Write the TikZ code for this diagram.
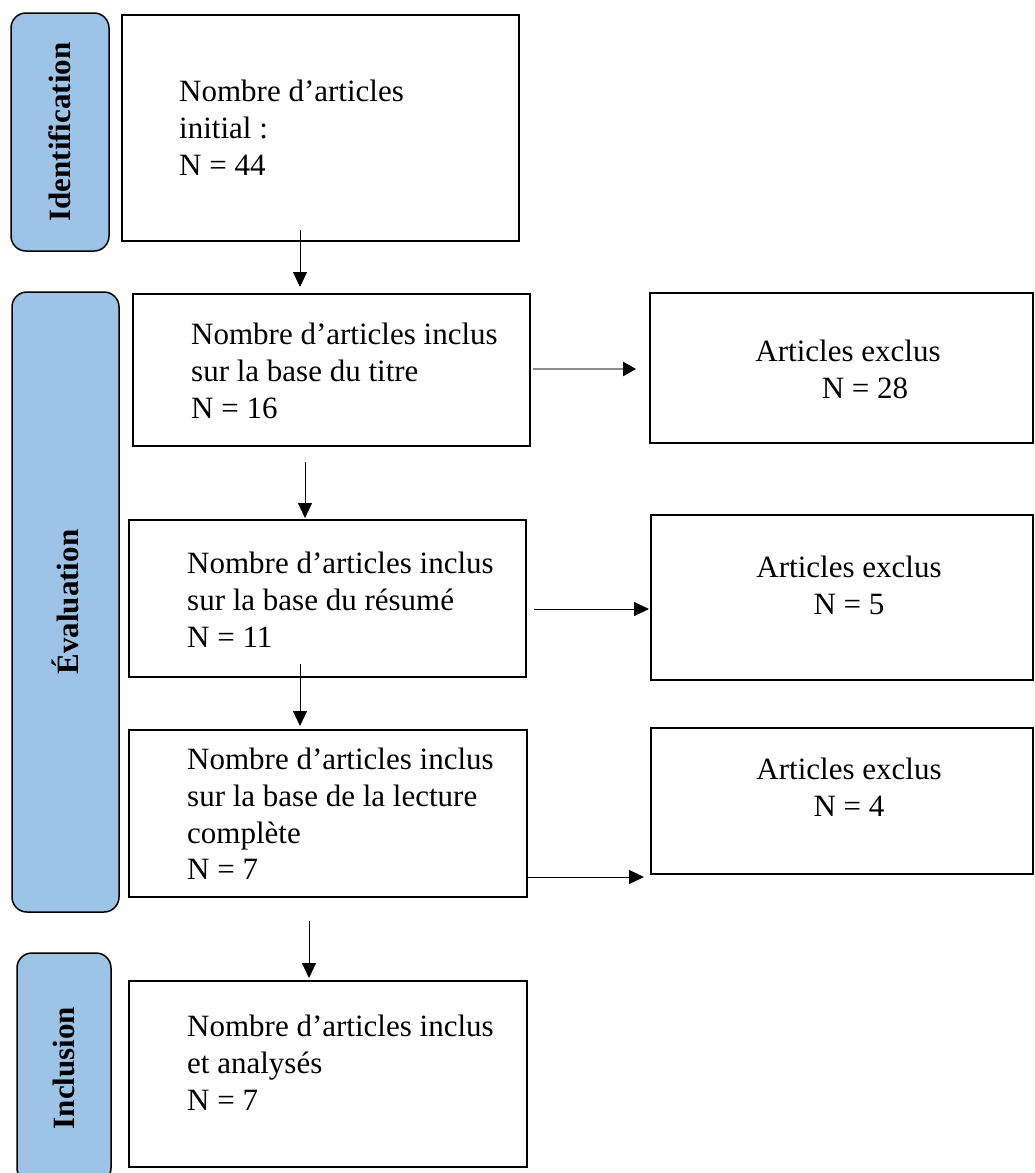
\documentclass[tikz,border=0pt]{standalone}
\usepackage{fontspec}
\setmainfont{Liberation Serif}
\usetikzlibrary{arrows.meta,positioning}
\definecolor{Sky}{HTML}{9DC3E6}
\definecolor{Grey}{HTML}{8C8C8C}
\tikzset{
 phase/.style={draw=black,fill=Sky,line width=1.5pt,rounded corners=15pt,rotate=90,inner sep=0pt,font=\fontsize{31}{37}\selectfont\bfseries},
 stagebox/.style={draw=black,line width=2pt,inner sep=0pt},
 txt/.style={align=left,inner sep=0pt,font=\fontsize{31}{36.7}\selectfont},
 ctxt/.style={txt,align=center},
 arr/.style={-{Triangle[length=15pt,width=14pt]},line width=1pt,draw=black},
 grr/.style={-{Triangle[length=13pt,width=14pt,color=black]},line width=2.5pt,draw=Grey}
}
\begin{document}
\begin{tikzpicture}[x=1pt,y=-1pt]
\useasboundingbox (0,0) rectangle (1034,1173);
% phases
\node[phase,minimum width=238,minimum height=98] (id) at (60,132) {Identification};
\node[phase,minimum width=620,minimum height=107] (ev) at (65.5,602) {Évaluation};
\node[phase,minimum width=230,minimum height=94] (inc) at (64,1068) {Inclusion};
% main column
\node[stagebox,minimum width=397,minimum height=226] (s1) at (320.5,128) {};
\node[stagebox,minimum width=397,minimum height=152] (s2) at (331.5,370) {};
\node[stagebox,minimum width=397,minimum height=157] (s3) at (327.5,598.5) {};
\node[stagebox,minimum width=398,minimum height=167] (s4) at (328,813.5) {};
\node[stagebox,minimum width=398,minimum height=186] (s5) at (328,1074) {};
\node[txt,below right=66pt and 58pt of s1.north west] (t1) {Nombre d’articles\\initial :\\N = 44};
\node[txt,below right=30pt and 59pt of s2.north west] (t2) {Nombre d’articles inclus\\sur la base du titre\\N = 16};
\node[txt,below right=33pt and 59pt of s3.north west] (t3) {Nombre d’articles inclus\\sur la base du résumé\\N = 11};
\node[txt,below right=19pt and 59pt of s4.north west] (t4) {Nombre d’articles inclus\\sur la base de la lecture\\complète\\N = 7};
\node[txt,below right=35pt and 59pt of s5.north west] (t5) {Nombre d’articles inclus\\et analysés\\N = 7};
% excluded
\node[stagebox,minimum width=383,minimum height=150] (x1) at (841.5,368) {};
\node[stagebox,minimum width=382,minimum height=165] (x2) at (842,597.5) {};
\node[stagebox,minimum width=382,minimum height=146] (x3) at (842,801) {};
\node[ctxt,anchor=north] (n1) at ([xshift=6.5pt,yshift=-48pt]x1.north) {Articles exclus\\\hspace*{34pt}N = 28};
\node[ctxt,anchor=north] (n2) at ([xshift=7pt,yshift=-42pt]x2.north) {Articles exclus\\N = 5};
\node[ctxt,anchor=north] (n3) at ([xshift=7pt,yshift=-31pt]x3.north) {Articles exclus\\N = 4};
% arrows
\draw[arr] ([xshift=-20.5pt,yshift=12pt]s1.south) -- ([xshift=-31.5pt,yshift=6pt]s2.north);
\draw[arr] ([xshift=-26.5pt,yshift=-15pt]s2.south) -- ([xshift=-22.5pt,yshift=1pt]s3.north);
\draw[arr] ([xshift=-27.5pt,yshift=14pt]s3.south) -- ([xshift=-28pt,yshift=3pt]s4.north);
\draw[arr] ([xshift=-19pt,yshift=-23pt]s4.south) -- ([xshift=-19pt,yshift=2pt]s5.north);
\draw[grr] ([xshift=2pt,yshift=1pt]s2.east) -- ([xshift=-13pt,yshift=-1pt]x1.west);
\draw[arr] ([xshift=7pt,yshift=-10.5pt]s3.east) -- ([xshift=-1pt,yshift=-11.5pt]x2.west);
\draw[arr] ([yshift=-63.5pt]s4.east) -- ([xshift=-6pt,yshift=-76pt]x3.west);
\end{tikzpicture}
\end{document}
